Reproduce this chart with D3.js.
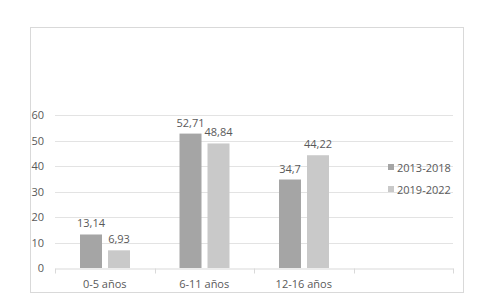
<!DOCTYPE html>
<html><head><meta charset="utf-8">
<script src="https://cdn.jsdelivr.net/npm/d3@7"></script>
<style>body{margin:0;background:#fff}svg{display:block}text{font-family:"Open Sans",sans-serif;fill:#595959}</style>
</head><body>
<svg id="c" width="501" height="304"></svg>
<script>
const categories = ["0-5 años", "6-11 años", "12-16 años", ""];
const seriesNames = ["2013-2018", "2019-2022"];
const values2013 = [13.14, 52.71, 34.7];
const values2019 = [6.93, 48.84, 44.22];
const valueLabels2013 = ["13,14", "52,71", "34,7"];
const valueLabels2019 = ["6,93", "48,84", "44,22"];
const yTicks = [0, 10, 20, 30, 40, 50, 60];
const colors = ["#a5a5a5", "#c9c9c9"];

const svg = d3.select("#c");
svg.append("rect").attr("x", 30.5).attr("y", 27.5).attr("width", 433).attr("height", 265)
  .attr("fill", "#fff").attr("stroke", "#d9d9d9");

const x0 = d3.scaleBand().domain(categories).range([55, 453]).padding(0);
const bw = x0.bandwidth();
const x1 = d3.scaleBand().domain(seriesNames).range([bw * 25 / 99.5, bw * 75 / 99.5]).paddingInner(0.214).paddingOuter(0);
const y = d3.scaleLinear().domain([0, 60]).range([268, 115]);

// gridlines
svg.append("g").selectAll("line").data(yTicks.filter(d => d > 0)).join("line")
  .attr("x1", 55).attr("x2", 453)
  .attr("y1", d => Math.round(y(d)) + 0.5).attr("y2", d => Math.round(y(d)) + 0.5)
  .attr("stroke", "#e3e3e3").attr("stroke-width", 1);

// y labels
svg.append("g").selectAll("text").data(yTicks).join("text")
  .attr("x", 44).attr("y", d => y(d) + 4).attr("text-anchor", "end")
  .attr("font-size", "11px").text(d => d);

// x axis
const xAxis = d3.axisBottom(x0).tickSize(4).tickFormat("");
const gx = svg.append("g").attr("transform", "translate(0,268.5)").call(xAxis);
gx.select(".domain").attr("stroke", "#d9d9d9");
gx.selectAll(".tick").remove();
const edges = [0, 1, 2, 3].map(i => x0(categories[i])).concat([x0.range()[1]]);
gx.selectAll("line.edge").data(edges).join("line").attr("class", "edge")
  .attr("x1", d => Math.round(d) + 0.5).attr("x2", d => Math.round(d) + 0.5)
  .attr("y1", 0).attr("y2", 5).attr("stroke", "#d9d9d9");
svg.append("g").selectAll("text").data(categories.slice(0, 3)).join("text")
  .attr("x", d => x0(d) + bw / 2).attr("y", 288).attr("text-anchor", "middle")
  .attr("font-size", "11px").text(d => d);

// bars
const data = [];
categories.slice(0, 3).forEach((c, i) => {
  data.push({c, s: seriesNames[0], v: values2013[i], l: valueLabels2013[i], col: colors[0]});
  data.push({c, s: seriesNames[1], v: values2019[i], l: valueLabels2019[i], col: colors[1]});
});
svg.append("g").selectAll("rect").data(data).join("rect")
  .attr("x", d => x0(d.c) + x1(d.s)).attr("width", x1.bandwidth())
  .attr("y", d => y(d.v)).attr("height", d => y(0) - y(d.v))
  .attr("fill", d => d.col);
svg.append("g").selectAll("text").data(data).join("text")
  .attr("x", d => x0(d.c) + x1(d.s) + x1.bandwidth() / 2).attr("y", d => y(d.v) - 7)
  .attr("text-anchor", "middle").attr("font-size", "11px").text(d => d.l);

// legend
const lg = svg.append("g").selectAll("g").data(seriesNames).join("g")
  .attr("transform", (d, i) => `translate(388,${164 + i * 22})`);
lg.append("rect").attr("width", 6).attr("height", 6).attr("fill", (d, i) => colors[i]);
lg.append("text").attr("x", 9).attr("y", 7.5).attr("font-size", "11px").text(d => d);
</script>
</body></html>
